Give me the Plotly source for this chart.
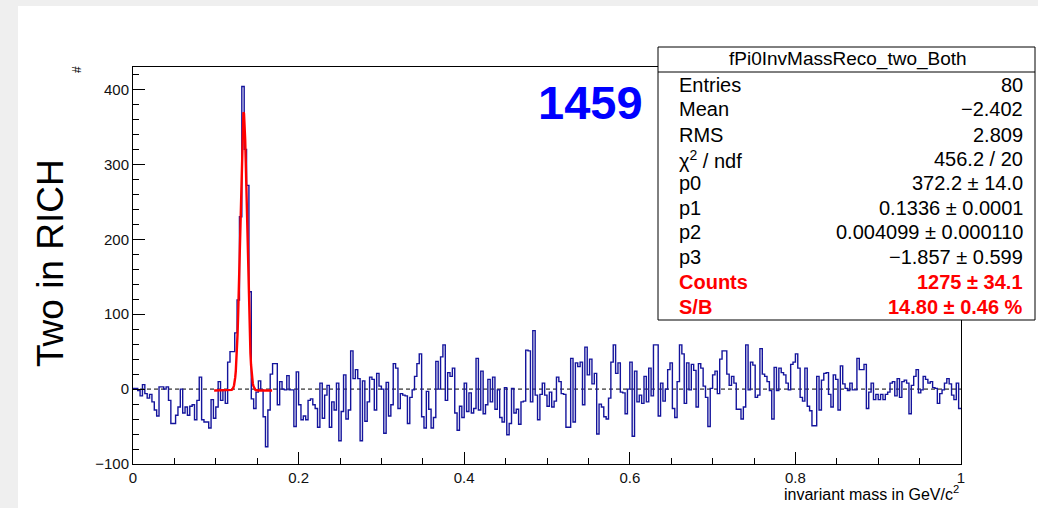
import numpy as np
import plotly.graph_objects as go

# ---- histogram contents (350 bins on 0..1 GeV/c^2) ----
n_bins = 350
x_min, x_max = 0.0, 1.0
counts = [
    # 0.000 - 0.120
    1, 1, -2, -9, 6, -6, -12, -7, -17, -28, -36, 3, 3, 0, 3, -15, -46, -46, -35, -24, 0,
    -32, -24, -35, -23, -21, -41, -15, 16, -41, -44, -44, -52, -14, -39, -24, 10, -15, -1,
    -19, 36, 50,
    # pi0 peak
    50, 75, 119, 230, 404, 320, 272, 130,
    # 0.143 - 0.246
    -13, -26, -4, 11, -1, -37, -77, -28, 20, 34, 34, -21, 10, 0, -1, 18, -1, -1, -50, 23,
    -21, -41, -36, -41, -15, -13, -21, -26, -51, 8, -39, -8, 5, -51, -17, -28,
    # 0.246 - 0.377
    8, -69, -30, 19, -40, -28, 51, 14, 26, 14, -69, 11, -43, -17, 16, 13, -28, 21, 4, 0,
    -59, 9, -36, -21, 34, 28, -26, -6, -8, -9, -46, -11, -1, 17, 34, 47, -37, -52, -3, -27,
    -52, -38, 37, 0, 43, 59,
    # 0.377 - 0.503
    -15, 22, 17, 28, -32, -55, -23, -38, 8, -30, -5, -32, -26, 41, -28, 24, -33, -21, 13,
    -17, 16, -27, -1, -38, -44, 2, -61, -46, 1, -32, -27, -47, -17, -16, 52, 51, -17, 78,
    -8, -41, -7, 8, -8, -23,
    # 0.503 - 0.629
    -4, -24, -16, 16, 10, -6, -7, -51, -51, 41, -44, 35, 30, 36, -21, 56, 19, 40, 7, 21,
    -60, -20, -24, -37, -40, -12, 36, 59, 21, 35, -4, -5, -33, 0, 36, -63, 24, -17, -8,
    -19, 17, -17, 28, -9,
    # 0.629 - 0.757
    59, 59, -36, 8, -16, 0, 26, 35, -26, -38, 10, 59, 47, -19, 35, -1, 33, 25, -24, 34,
    28, 4, -11, -50, 1, 19, 24, -6, 40, 51, 51, 20, 5, 17, 8, -27, -27, -40, -24, 59, -1,
    36, 32, -11, -8,
    # 0.757 - 0.883
    54, 20, 17, 10, -2, -40, 29, -2, 28, 22, 19, 8, -1, 33, 36, 47, 28, -11, -16, 28, -23,
    -29, -49, -49, 17, -28, 12, 21, 22, -7, -24, 19, 13, -28, 31, 7, 1, -2, 8, -1, -1, 41,
    26, 26,
    # 0.883 - 1.000
    33, -26, -4, 8, -14, -7, -14, -7, -14, -7, -4, 8, 10, -9, 14, -11, 10, 12, 8, -33, 5,
    17, 26, -5, -1, 17, 13, 8, 10, 2, 1, -19, -6, -1, 8, 14, 7, -8, -14, 8, -26,
]

# ---- fit: gaus(p0, p1, p2) + p3 ----
fit_p0, fit_p1, fit_p2, fit_p3 = 372.2, 0.1336, 0.004099, -1.857
fit_range = (0.098, 0.168)
fit_npx = 100

# ---- statistics box ----
stat_title = "fPi0InvMassReco_two_Both"
stat_labels = ["Entries", "Mean", "RMS", "χ<sup>2</sup> / ndf", "p0", "p1", "p2", "p3",
               "<b>Counts</b>", "<b>S/B</b>"]
stat_values = ["80", "−2.402", "2.809", "456.2 / 20", "372.2 ± 14.0", "0.1336 ± 0.0001",
               "0.004099 ± 0.000110", "−1.857 ± 0.599", "<b>1275 ± 34.1</b>",
               "<b>14.80 ± 0.46 %</b>"]
stat_colors = ["#000000"] * 8 + ["#ff0000", "#ff0000"]

run_label = "1459"
y_title = "Two in RICH"
x_title = "invariant mass in GeV/c<sup>2</sup>"

# ---- canvas geometry (pixels) ----
W, H = 1038, 508
FL, FR, FT, FB = 133, 961, 67, 464
FONT = "Liberation Sans, Arial, Helvetica, sans-serif"


def px(xp):
    return (xp - FL) / (FR - FL)


def py(yp):
    return (FB - yp) / (FB - FT)


edges = np.linspace(x_min, x_max, n_bins + 1)
hx = edges
hy = list(counts) + [counts[-1]]

fx = np.linspace(fit_range[0], fit_range[1], fit_npx)
fy = fit_p0 * np.exp(-0.5 * ((fx - fit_p1) / fit_p2) ** 2) + fit_p3

fig = go.Figure()
fig.add_trace(go.Scatter(x=hx, y=hy, mode="lines", line=dict(shape="hv", color="#14149c", width=1.4),
                         hoverinfo="skip"))
fig.add_trace(go.Scatter(x=fx, y=fy, mode="lines", line=dict(color="#ff0000", width=2.4),
                         hoverinfo="skip"))

shapes = []
# grey canvas border (left and top)
shapes.append(dict(type="rect", xref="paper", yref="paper", x0=px(0), x1=px(18), y0=py(H), y1=py(0),
                   fillcolor="#efefef", line=dict(width=0), layer="below"))
shapes.append(dict(type="rect", xref="paper", yref="paper", x0=px(0), x1=px(W), y0=py(6), y1=py(0),
                   fillcolor="#efefef", line=dict(width=0), layer="below"))
# zero line
shapes.append(dict(type="line", xref="x", yref="y", x0=0, x1=1, y0=0, y1=0,
                   line=dict(color="black", width=1, dash="4px,3px"), layer="below"))
# stats box
bx0, bx1, by0, by1 = 658, 1035, 47, 320
shapes.append(dict(type="rect", xref="paper", yref="paper", x0=px(bx0), x1=px(bx1), y0=py(by1), y1=py(by0),
                   fillcolor="white", line=dict(color="black", width=1), layer="above"))
shapes.append(dict(type="line", xref="paper", yref="paper", x0=px(bx0), x1=px(bx1), y0=py(72), y1=py(72),
                   line=dict(color="black", width=1), layer="above"))

ann = []
ann.append(dict(text=stat_title, xref="paper", yref="paper", x=px((bx0 + bx1) / 2 + 1), y=py(59),
                xanchor="center", yanchor="middle", showarrow=False, font=dict(family=FONT, size=19, color="black")))
row_y = [85, 109.3, 134.5, 159, 183.3, 208, 232, 256.7, 282.3, 306.7]
for lab, val, col, ry in zip(stat_labels, stat_values, stat_colors, row_y):
    ann.append(dict(text=lab, xref="paper", yref="paper", x=px(677), y=py(ry), xanchor="left", yanchor="middle",
                    showarrow=False, font=dict(family=FONT, size=20, color=col)))
    ann.append(dict(text=val, xref="paper", yref="paper", x=px(1025), y=py(ry), xanchor="right", yanchor="middle",
                    showarrow=False, font=dict(family=FONT, size=20, color=col)))

ann.append(dict(text="<b>" + run_label + "</b>", xref="paper", yref="paper", x=px(590), y=py(102),
                xanchor="center", yanchor="middle", showarrow=False,
                font=dict(family=FONT, size=47, color="#0000ff")))
ann.append(dict(text=y_title, xref="paper", yref="paper", x=px(50), y=py(263), textangle=-90,
                xanchor="center", yanchor="middle", showarrow=False,
                font=dict(family=FONT, size=37, color="black")))
ann.append(dict(text="#", xref="paper", yref="paper", x=px(77), y=py(70), textangle=-90,
                xanchor="center", yanchor="middle", showarrow=False,
                font=dict(family=FONT, size=12, color="black")))
ann.append(dict(text=x_title, xref="paper", yref="paper", x=1.0, y=py(493),
                xanchor="right", yanchor="middle", showarrow=False,
                font=dict(family=FONT, size=16, color="black")))

fig.update_layout(
    width=W, height=H,
    margin=dict(l=FL, r=W - FR, t=FT, b=H - FB, pad=0),
    paper_bgcolor="white", plot_bgcolor="white",
    showlegend=False,
    shapes=shapes, annotations=ann,
    font=dict(family=FONT, size=15, color="#111"),
)
fig.update_xaxes(range=[x_min, x_max], showgrid=False, zeroline=False, showline=True, linecolor="black",
                 linewidth=1, mirror=True, ticks="inside", ticklen=12, tickcolor="black", dtick=0.2,
                 tick0=0, tickfont=dict(family=FONT, size=15, color="#111"),
                 minor=dict(ticks="inside", ticklen=6, dtick=0.05, tickcolor="black", showgrid=False))
fig.update_yaxes(range=[-100, 430], showgrid=False, zeroline=False, showline=True, linecolor="black",
                 linewidth=1, mirror=True, ticks="inside", ticklen=12, tickcolor="black", dtick=100,
                 tick0=0, tickfont=dict(family=FONT, size=15, color="#111"),
                 minor=dict(ticks="inside", ticklen=6, dtick=20, tickcolor="black", showgrid=False))

fig.write_html("out.html")
